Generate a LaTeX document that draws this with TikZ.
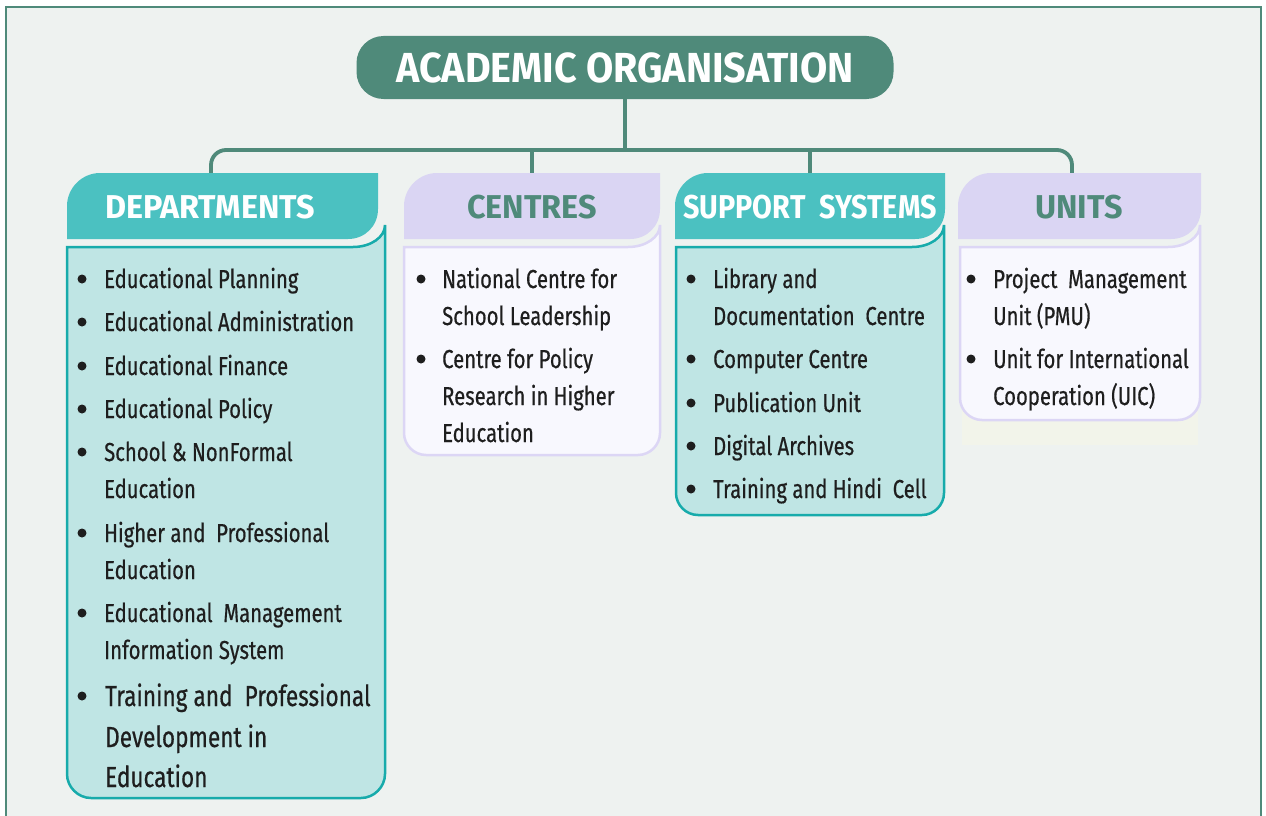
\documentclass[tikz,border=0pt]{standalone}
\usepackage{fontspec}
\setmainfont{Fira Sans}
\newfontfamily\bodyfont{Fira Sans}[FakeStretch=0.78,FakeBold=0.5]
\newfontfamily\headfont{Fira Sans}[FakeStretch=0.98]
\newfontfamily\supfont{Fira Sans}[FakeStretch=0.87]
\newfontfamily\ttlfont{Fira Sans}[FakeStretch=0.94]
\definecolor{bg}{HTML}{EEF2F0}
\definecolor{dkgreen}{HTML}{4F8A7A}
\definecolor{tealtab}{HTML}{4BC1C1}
\definecolor{tealbody}{HTML}{BFE5E4}
\definecolor{tealline}{HTML}{17ABAB}
\definecolor{lavtab}{HTML}{DAD5F3}
\definecolor{lavbody}{HTML}{F8F8FE}
\definecolor{lavline}{HTML}{DCD6F5}
\definecolor{shadowc}{HTML}{F2F4EA}
\definecolor{txtc}{HTML}{1E1E1E}
\newcommand\itm[5]{\node[bul] (#1-b) at ({#2},{#4-9}) {};\node[txt] (#1) at (#3,#4) {#5};}
\newcommand\cnt[4]{\node[txt] (#1) at (#2,#3) {#4};}
\begin{document}
\begin{tikzpicture}[x=1pt,y=-1pt,
  conn/.style={draw=dkgreen,line width=3.8pt},
  titlebox/.style={fill=dkgreen,rounded corners=27pt,minimum width=537pt,minimum height=63pt,inner sep=0,text=white,font=\ttlfont\bfseries\fontsize{42}{42}\selectfont},
  hd/.style={anchor=base,inner sep=0,font=\headfont\bfseries\fontsize{33}{33}\selectfont},
  txt/.style={anchor=base west,inner sep=0,text=txtc,font=\bodyfont\fontsize{26}{26}\selectfont},
  bul/.style={circle,fill=txtc,inner sep=0,minimum size=9pt},
  big/.style={font=\bodyfont\fontsize{29}{29}\selectfont},
  tealtabs/.style={fill=tealtab},
  lavtabs/.style={fill=lavtab},
  tealbox/.style={fill=tealbody,draw=tealline,line width=2.5pt},
  lavbox/.style={fill=lavbody,draw=lavline,line width=2.5pt}]
\path[use as bounding box] (0,0) rectangle (1266,816);
\clip (0,0) rectangle (1266,816);
\fill[white] (0,0) rectangle (1266,816);
\draw[dkgreen,line width=2pt,fill=bg] (6,7) rectangle (1261,850);

% title
\node[titlebox] (title) at (625,67.5) {ACADEMIC ORGANISATION};

% connectors
\coordinate (bus) at (625,150);
\coordinate (depT) at (211,180);
\coordinate (cenT) at (532,180);
\coordinate (supT) at (810,180);
\coordinate (uniT) at (1072,180);
\draw[conn] (title.south) -- (bus);
\draw[conn,rounded corners=15pt] (depT) -- (depT |- bus) -- (uniT |- bus) -- (uniT);
\draw[conn] (cenT |- bus) -- (cenT);
\draw[conn] (supT |- bus) -- (supT);

% DEPARTMENTS
\path[tealtabs] (67,239) -- (67,206) .. controls (67,188) and (82,173) .. (100,173) -- (378,173) -- (378,209) .. controls (378,226) and (365,239) .. (348,239) -- cycle;
\path[tealbox] (67,247) -- (353,247) .. controls (371,247) and (385,237) .. (385,225) -- (385,774) .. controls (385,787) and (374,798) .. (361,798) -- (91,798) .. controls (78,798) and (67,787) .. (67,774) -- cycle;
\node[hd,text=white] (dep) at (210,218) {DEPARTMENTS};

% CENTRES
\path[lavtabs] (404,239) -- (404,206) .. controls (404,188) and (419,173) .. (437,173) -- (660,173) -- (660,209) .. controls (660,226) and (647,239) .. (630,239) -- cycle;
\path[lavbox] (404,247) -- (628,247) .. controls (646,247) and (660,237) .. (660,225) -- (660,433) .. controls (660,445) and (650,455) .. (638,455) -- (426,455) .. controls (414,455) and (404,445) .. (404,433) -- cycle;
\node[hd,text=dkgreen] (cen) at (532,218) {CENTRES};

% SUPPORT SYSTEMS
\path[tealtabs] (675,239) -- (675,206) .. controls (675,188) and (690,173) .. (708,173) -- (945,173) -- (945,209) .. controls (945,226) and (932,239) .. (915,239) -- cycle;
\path[tealbox] (676,247) -- (912,247) .. controls (930,247) and (944,237) .. (944,225) -- (944,493) .. controls (944,505) and (934,515) .. (922,515) -- (698,515) .. controls (686,515) and (676,505) .. (676,493) -- cycle;
\node[hd,text=white,font=\supfont\bfseries\fontsize{33}{33}\selectfont] (sup) at (810,218) {SUPPORT\hspace{7pt} SYSTEMS};

% UNITS
\fill[shadowc] (962,405) rectangle (1198,445);
\path[lavtabs] (958,239) -- (958,206) .. controls (958,188) and (973,173) .. (991,173) -- (1201,173) -- (1201,209) .. controls (1201,226) and (1188,239) .. (1171,239) -- cycle;
\path[lavbox] (960,247) -- (1168,247) .. controls (1186,247) and (1200,237) .. (1200,225) -- (1200,398) .. controls (1200,410) and (1190,420) .. (1178,420) -- (982,420) .. controls (970,420) and (960,410) .. (960,398) -- cycle;
\node[hd,text=dkgreen] (uni) at (1079,218) {UNITS};

% department items
\itm{d1}{82}{104}{288}{Educational Planning}
\itm{d2}{82}{104}{331}{Educational Administration}
\itm{d3}{82}{104}{375}{Educational Finance}
\itm{d4}{82}{104}{418}{Educational Policy}
\itm{d5}{82}{104}{461}{School \& NonFormal}
\cnt{d5a}{104}{498}{Education}
\itm{d6}{82}{104}{542}{Higher and\ \ Professional}
\cnt{d6a}{104}{579}{Education}
\itm{d7}{82}{104}{622}{Educational\ \ Management}
\cnt{d7a}{104}{659}{Information System}
\node[bul] (d8-b) at (82,696) {};
\node[txt,big] (d8) at (105,706) {Training and\ \ Professional};
\node[txt,big] (d8a) at (105,747) {Development in};
\node[txt,big] (d8b) at (105,787) {Education};

% centre items
\itm{c1}{421}{442}{288}{National Centre for}
\cnt{c1a}{442}{325}{School Leadership}
\itm{c2}{421}{442}{368}{Centre for Policy}
\cnt{c2a}{442}{405}{Research in Higher}
\cnt{c2b}{442}{442}{Education}

% support items
\itm{s1}{691}{713}{288}{Library and}
\cnt{s1a}{713}{325}{Documentation\ \ Centre}
\itm{s2}{691}{713}{368}{Computer Centre}
\itm{s3}{691}{713}{412}{Publication Unit}
\itm{s4}{691}{713}{455}{Digital Archives}
\itm{s5}{691}{713}{498}{Training and Hindi\ \ Cell}

% unit items
\itm{u1}{971}{993}{288}{Project\ \ Management}
\cnt{u1a}{993}{325}{Unit (PMU)}
\itm{u2}{971}{993}{368}{Unit for International}
\cnt{u2a}{993}{405}{Cooperation (UIC)}
\end{tikzpicture}
\end{document}
